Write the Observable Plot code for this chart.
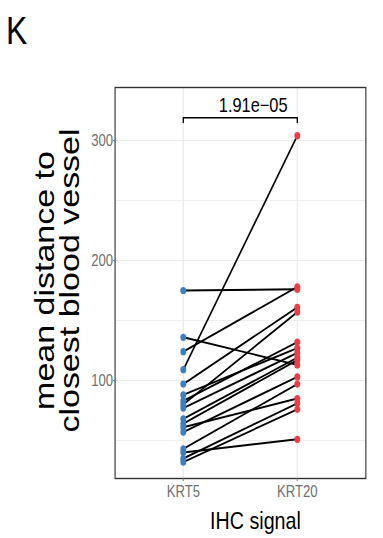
<!DOCTYPE html>
<html><head><meta charset="utf-8">
<script src="https://cdn.jsdelivr.net/npm/d3@7"></script>
<script src="https://cdn.jsdelivr.net/npm/@observablehq/plot@0.6"></script>
<style>html,body{margin:0;padding:0;background:#fff;overflow:hidden}</style>
</head><body><div id="chart"></div>
<script>
const groups = ["KRT5", "KRT20"];
const krt5  = [175, 136, 124, 109, 97, 88, 83, 80, 77, 68, 64, 61, 57, 43, 40, 35, 32];
const krt20 = [176, 113, 178, 304, 161, 127, 132, 157, 123, 119, 117, 85, 103, 97, 51, 81, 76];
const yMajor = [100, 200, 300];
const yMinor = [50, 150, 250];
const panelLabel = "K";
const yTitleLines = ["mean distance to", "closest blood vessel"];
const xTitle = "IHC signal";
const pLabel = "1.91e\u221205";
const bracketY = 319;
const bracketTick = 315;

const pairs = krt5.map((v, i) => ({id: i, a: v, b: krt20[i]}));
const bracket = [
  {g: groups[0], v: bracketTick}, {g: groups[0], v: bracketY},
  {g: groups[1], v: bracketY}, {g: groups[1], v: bracketTick}
];

const W = 467, H = 538; // design width, compressed horizontally to 383
const font = "'Liberation Sans', Arial, Helvetica, sans-serif";
const plot = Plot.plot({
  width: W, height: H,
  marginLeft: 139.8, marginRight: 21.4, marginTop: 87, marginBottom: 60,
  style: {fontFamily: font, fontSize: "16px", background: "#fff"},
  x: {type: "point", domain: groups, padding: 0.6},
  y: {domain: [18.33, 344.17]},
  marks: [
    Plot.ruleY(yMinor, {stroke: "#ebebeb", strokeWidth: 0.9}),
    Plot.ruleY(yMajor, {stroke: "#ebebeb", strokeWidth: 1.2}),
    Plot.ruleX(groups, {stroke: "#ebebeb", strokeWidth: 1.5}),
    Plot.frame({stroke: "#333", strokeWidth: 1.4}),
    Plot.axisY(yMajor, {tickSize: 2, tickPadding: 0.5, fill: "#6f6f6f", stroke: "#6f6f6f", fontSize: 16, label: null}),
    Plot.axisX({tickSize: 3, tickPadding: 4.6, fill: "#6f6f6f", stroke: "#6f6f6f", fontSize: 16, label: null}),
    Plot.link(pairs, {x1: () => groups[0], y1: "a", x2: () => groups[1], y2: "b", stroke: "#000", strokeWidth: 1.9}),
    Plot.dot(pairs, {x: () => groups[0], y: "a", r: 3.6, fill: "#3d7fc1"}),
    Plot.dot(pairs, {x: () => groups[1], y: "b", r: 3.6, fill: "#ee3d4a"}),
    Plot.line(bracket, {x: "g", y: "v", stroke: "#000", strokeWidth: 1.6}),
    Plot.text([pLabel], {y: () => bracketY + 4.5, text: d => d, frameAnchor: "middle", dx: 15.5, lineAnchor: "bottom", fontSize: 20, fill: "#000"}),
    Plot.text([panelLabel], {text: d => d, frameAnchor: "top-left", dx: -133, dy: -43.7, lineAnchor: "bottom", textAnchor: "start", fontSize: 39, fill: "#000"}),
    Plot.text([yTitleLines[0]], {text: d => d, frameAnchor: "left", rotate: -90, dx: -74.4, dy: -2.5, fontSize: 34, fill: "#000", textAnchor: "middle", lineAnchor: "bottom"}),
    Plot.text([yTitleLines[1]], {text: d => d, frameAnchor: "left", rotate: -90, dx: -43.4, dy: -2.5, fontSize: 34, fill: "#000", textAnchor: "middle", lineAnchor: "bottom"}),
    Plot.text([xTitle], {text: d => d, frameAnchor: "bottom", dx: 18.3, dy: 50, lineAnchor: "bottom", fontSize: 24, fill: "#000"})
  ]
});
plot.setAttribute("width", 383);
plot.setAttribute("height", 538);
plot.setAttribute("preserveAspectRatio", "none");
plot.style.width = "383px";
plot.style.height = "538px";
plot.style.maxWidth = "none";
document.getElementById("chart").appendChild(plot);
</script>
</body></html>
